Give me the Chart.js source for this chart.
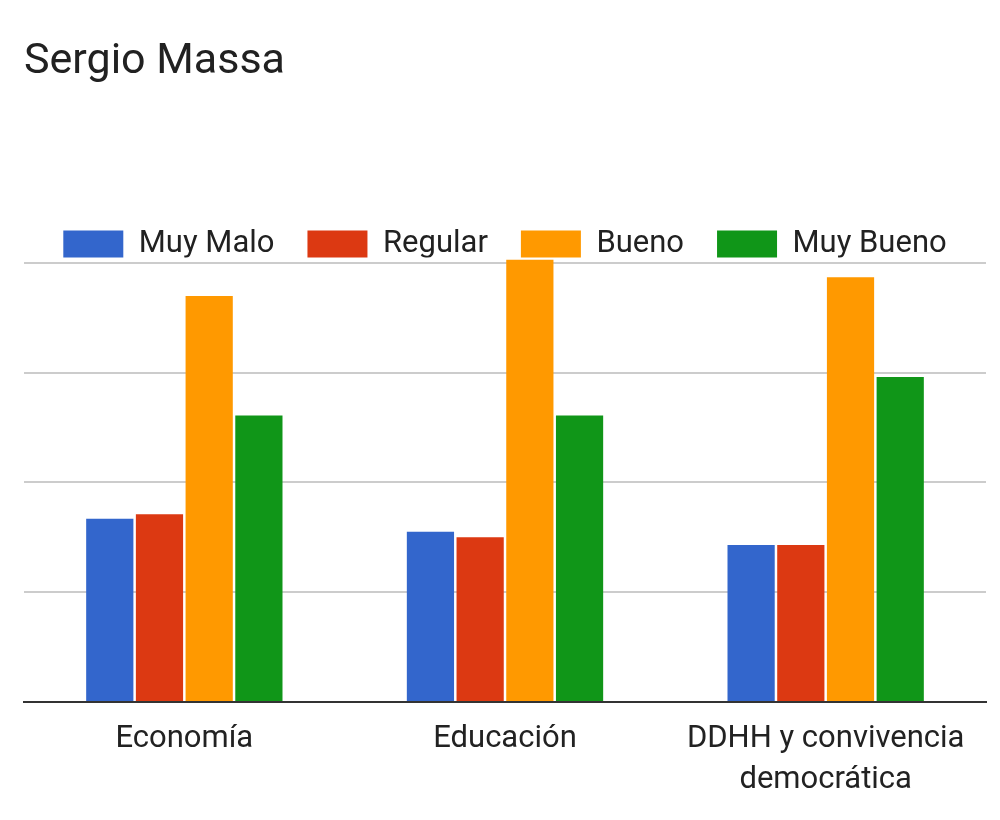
<!DOCTYPE html>
<html>
<head>
<meta charset="utf-8">
<script src="https://cdn.jsdelivr.net/npm/chart.js@4.4.1/dist/chart.umd.min.js"></script>
<style>
  html, body { margin: 0; padding: 0; background: #fff; }
  #wrap { width: 1000px; height: 820px; }
</style>
</head>
<body>
<div id="wrap"><canvas id="grafico"></canvas></div>
<script>
// datos
var categorias = ['Economía', 'Educación', ['DDHH y convivencia', 'democrática']]
var series = ['Muy Malo', 'Regular', 'Bueno', 'Muy Bueno']
var muyMalo = [16.7, 15.5, 14.3]
var regular = [17.1, 15.0, 14.3]
var bueno = [37.0, 40.3, 38.7]
var muyBueno = [26.1, 26.1, 29.6]
var lineasY = [0, 10, 20, 30, 40]
var colores = ['#3366cc', '#dc3912', '#ff9900', '#109618']

var FUENTE = 'Roboto, "Noto Sans", sans-serif'

/* alto fijo de la leyenda (el padding de chart.js tambien se usa en vertical) */
var altoLeyenda = {
    id: 'altoLeyenda',
    beforeInit: function(chart){
        var fit = chart.legend.fit
        chart.legend.fit = function(){
            fit.call(this)
            this.height = 61.5
        }
    }
}

function crearGrafico(){
    var valores = [muyMalo, regular, bueno, muyBueno]
    var datasets = []
    for(var i = 0; i < series.length; ++i){
        datasets.push({
            label: series[i],
            data: valores[i],
            backgroundColor: colores[i],
            borderWidth: 0,
            categoryPercentage: 0.62,
            barPercentage: 0.95
        })
    }

    return new Chart(document.getElementById('grafico').getContext('2d'), {
        type: 'bar',
        data: { labels: categorias, datasets: datasets },
        plugins: [altoLeyenda],
        options: {
            responsive: true,
            maintainAspectRatio: false,
            animation: false,
            layout: { padding: { left: 24, right: 14, top: 0, bottom: 3 } },
            plugins: {
                title: {
                    display: true,
                    text: 'Sergio Massa',
                    align: 'start',
                    color: '#212121',
                    font: { family: FUENTE, size: 43, weight: 'normal', lineHeight: 1.2 },
                    padding: { top: 36, bottom: 108.4 }
                },
                legend: {
                    display: true,
                    position: 'top',
                    labels: {
                        boxWidth: 60,
                        boxHeight: 28,
                        padding: 33,
                        color: '#212121',
                        font: { family: FUENTE, size: 31 }
                    }
                },
                tooltip: { enabled: false }
            },
            scales: {
                x: {
                    grid: { display: false, drawTicks: false },
                    border: { display: true, color: '#333333', width: 2 },
                    ticks: {
                        color: '#222222',
                        padding: 16.5,
                        maxRotation: 0,
                        autoSkip: false,
                        font: { family: FUENTE, size: 31, lineHeight: 1.323 }
                    }
                },
                y: {
                    min: 0,
                    max: 40.5,
                    border: { display: false },
                    afterBuildTicks: function(eje){
                        eje.ticks = lineasY.map(function(v){ return { value: v } })
                    },
                    grid: {
                        drawTicks: false,
                        lineWidth: 2,
                        color: function(ctx){
                            var v = ctx.tick ? ctx.tick.value : 0
                            if(v === 0)
                                return 'rgba(0,0,0,0)'
                            return '#cccccc'
                        }
                    },
                    ticks: { display: false }
                }
            }
        }
    })
}

window.addEventListener('load', crearGrafico, false)
</script>
</body>
</html>
